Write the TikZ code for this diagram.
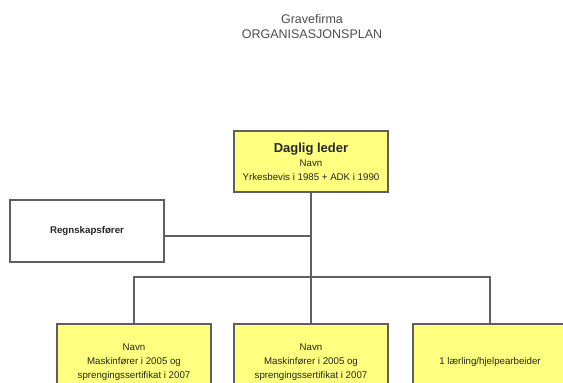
\documentclass[tikz,border=0pt]{standalone}
\usepackage{fontspec}
\setmainfont{Liberation Sans}
\usepackage{tikz}
\usetikzlibrary{positioning}

\definecolor{boxyellow}{RGB}{255,255,128}
\definecolor{linegray}{RGB}{95,95,95}

\begin{document}
\begin{tikzpicture}[x=1pt, y=-1pt,
    unit/.style={draw=linegray, line width=1.3pt, minimum width=154pt, align=center, text=black!85, font=\fontsize{9.7}{14}\selectfont},
    leader/.style={unit, fill=boxyellow},
    link/.style={draw=linegray, line width=1.2pt}]
                \useasboundingbox (0,0) rectangle (563,383);
                \node[text=black!70, align=center, font=\fontsize{12.5}{15}\selectfont] (title) at (312,26.5) {Gravefirma\\ORGANISASJONSPLAN};
                \node[leader, minimum height=61pt] (leder) at (311,161.5) {{\fontsize{13}{15}\selectfont\bfseries Daglig leder}\\Navn\\Yrkesbevis i 1985 + ADK i 1990};
                \node[unit, minimum height=62pt] (regn) at (87,231) {\bfseries Regnskapsfører};
                \node[leader, minimum height=76pt] (ansatt1) at (134,362) {Navn\\Maskinfører i 2005 og\\sprengingssertifikat i 2007};
                \node[leader, minimum height=76pt] (ansatt2) at (311,362) {Navn\\Maskinfører i 2005 og\\sprengingssertifikat i 2007};
                \node[leader, minimum height=76pt] (laerling) at (490,362) {1 lærling/hjelpearbeider};
                \coordinate (bar) at (311,277);
                \draw[link] (leder.south) -- (ansatt2.north);
                \draw[link] (regn.east |- 0,236) -- (leder.south |- 0,236);
                \draw[link] (ansatt1.north) |- (bar) -| (laerling.north);
            \end{tikzpicture}
\end{document}
